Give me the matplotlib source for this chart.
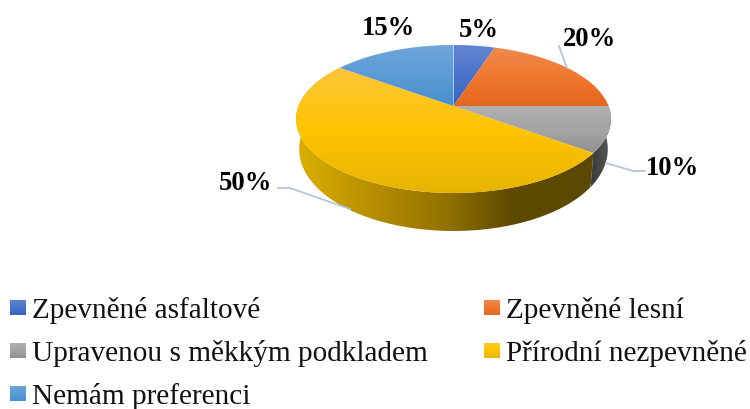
#!/usr/bin/env python3
"""3D-looking pie chart with legend, drawn in pixel coordinates"""
import numpy as np
import matplotlib
matplotlib.use('Agg')
import matplotlib.pyplot as plt
from matplotlib.colors import to_rgb
from matplotlib.patches import Polygon

plt.rcParams['font.family'] = ['Liberation Serif', 'DejaVu Serif']

# Data
categories = ['Zpevněné asfaltové', 'Zpevněné lesní', 'Upravenou s měkkým podkladem',
              'Přírodní nezpevněné', 'Nemám preferenci']
values = [5, 20, 10, 50, 15]
value_labels = ['5%', '20%', '10%', '50%', '15%']

# Top gradient of each slice (top, middle, bottom colour)
top_colors = [('#6285d2', '#4a74c9', '#3463bf'), ('#f0894e', '#f0792f', '#e3661b'),
              ('#b0b0b0', '#a5a5a5', '#8f8f8f'), ('#fdc63a', '#ffc400', '#e6b400'),
              ('#6ea6da', '#5b9bd5', '#468ecf')]

# Pie geometry (perspective projection of a disc)
CX, CY = 453.5, 107
A, B, K = 155, 71.7, -0.1757


def rim(start, end, bottom=False):
    t = np.radians(np.linspace(start, end, 160))
    u, v = np.sin(t), -np.cos(t)
    d = 1 + K * v
    x = CX + A * u / d
    y = CY + B * v / d
    if bottom:
        x = CX + (x - CX) * 0.98
        y = y + 28.5 + 9.5 * v
    return np.column_stack([x, y])


def grad_fill(ax, pts, stops, horizontal=False, zorder=2):
    # gradient image clipped to the polygon
    x0, y0 = pts.min(axis=0)
    x1, y1 = pts.max(axis=0)
    pos = [s[0] for s in stops]
    rgb = np.array([to_rgb(s[1]) for s in stops])
    t = np.linspace(0, 1, 256)
    col = np.column_stack([np.interp(t, pos, rgb[:, i]) for i in range(3)])
    img = col[None, :, :] if horizontal else col[:, None, :]
    im = ax.imshow(img, extent=(x0, x1, y1, y0), aspect='auto', origin='upper',
                   zorder=zorder, interpolation='bilinear')
    poly = Polygon(pts, closed=True, transform=ax.transData, facecolor='none', edgecolor='none')
    ax.add_patch(poly)
    im.set_clip_path(poly)


def three_stops(cols):
    return [(0, cols[0]), (0.5, cols[1]), (1, cols[2])]


fig = plt.figure(figsize=(7.5, 4.1), dpi=100)
ax = fig.add_axes([0, 0, 1, 1])

# Side wall
cum = np.cumsum([0] + values) * 3.6
wall_yellow = np.vstack([rim(cum[3], cum[4]), rim(cum[3], cum[4], True)[::-1]])
grad_fill(ax, wall_yellow,
          [(0, '#dcb000'), (0.25, '#b88f00'), (0.5, '#927200'), (0.72, '#5f4a00'), (1, '#5c4800')],
          horizontal=True, zorder=1)
wall_grey = np.vstack([rim(cum[2], cum[3]), rim(cum[2], cum[3], True)[::-1]])
grad_fill(ax, wall_grey, [(0, '#3a3a3a'), (1, '#5a5a5a')], horizontal=True, zorder=1)

# Top slices
for i, val in enumerate(values):
    pts = np.vstack([[CX, CY], rim(cum[i], cum[i + 1])])
    grad_fill(ax, pts, three_stops(top_colors[i]), zorder=2)

# Leader lines
leaders = [((559, 47), (567, 69)),
           ((606, 164), (633, 172), (645, 172)),
           ((278, 189), (290, 189), (350, 210))]
for line in leaders:
    xs, ys = zip(*line)
    ax.plot(xs, ys, color='#b5c5da', lw=1.3, zorder=3, solid_joinstyle='round')

# Value labels
label_pos = [(479, 37), (589, 46), (673, 175), (246, 190), (388, 35)]
for lab, (x, y) in zip(value_labels, label_pos):
    ax.text(x, y, lab, fontsize=19.2, fontweight='bold', ha='center', va='baseline',
            color='black', zorder=4)

# Legend
legend_pos = [(10, 318), (484, 318), (10, 361), (484, 361), (10, 404)]
for i, (name, (x, y)) in enumerate(zip(categories, legend_pos)):
    sq = np.array([[x, y - 17], [x + 16, y - 17], [x + 16, y - 1.5], [x, y - 1.5]])
    grad_fill(ax, sq, three_stops(top_colors[i]), zorder=2)
    ax.text(x + 22, y, name, fontsize=21.05, ha='left', va='baseline', color='#111111', zorder=4)

ax.set_xlim(0, 750)
ax.set_ylim(410, 0)
ax.axis('off')

fig.savefig('out.png', dpi=100, facecolor='white')
plt.close(fig)
